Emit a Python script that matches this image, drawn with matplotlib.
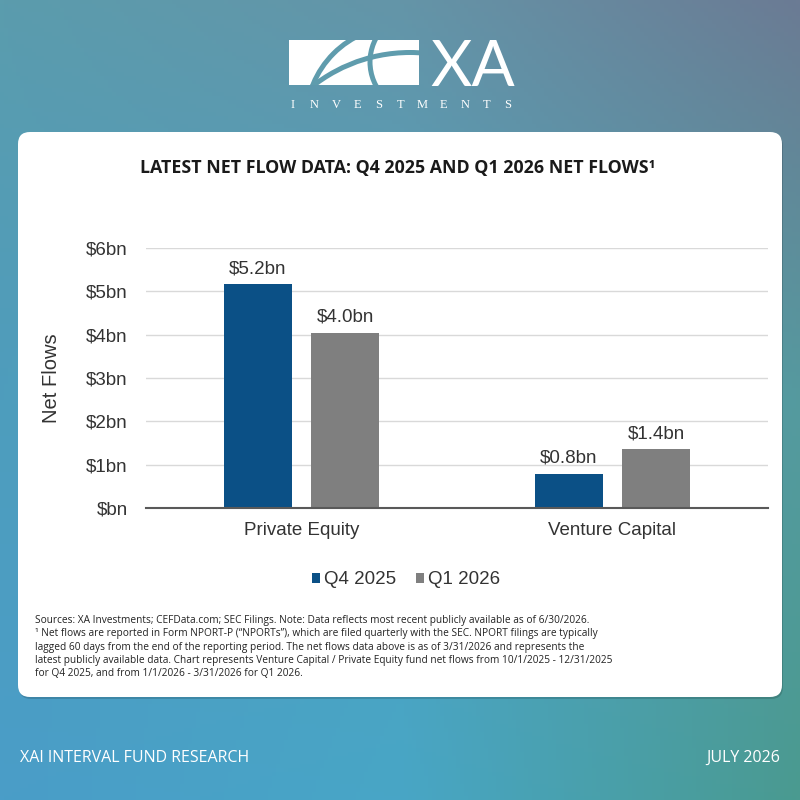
import numpy as np
import matplotlib
matplotlib.use("Agg")
import matplotlib.pyplot as plt
from matplotlib.patches import FancyBboxPatch, Rectangle, Circle
from matplotlib.colors import to_rgb

# data
categories = ["Private Equity", "Venture Capital"]
series_names = ["Q4 2025", "Q1 2026"]
q4_2025 = [5.17, 0.79]
q1_2026 = [4.04, 1.36]
y_ticks = [0, 1, 2, 3, 4, 5, 6]
y_tick_labels = ["$bn", "$1bn", "$2bn", "$3bn", "$4bn", "$5bn", "$6bn"]

title = "LATEST NET FLOW DATA: Q4 2025 AND Q1 2026 NET FLOWS\u00b9"
footnote = [
    "Sources: XA Investments; CEFData.com; SEC Filings. Note: Data reflects most recent publicly available as of 6/30/2026.",
    "\u00b9 Net flows are reported in Form NPORT-P (\u201cNPORTs\u201d), which are filed quarterly with the SEC. NPORT filings are typically",
    "lagged 60 days from the end of the reporting period. The net flows data above is as of 3/31/2026 and represents the",
    "latest publicly available data. Chart represents Venture Capital / Private Equity fund net flows from 10/1/2025 - 12/31/2025",
    "for Q4 2025, and from 1/1/2026 - 3/31/2026 for Q1 2026.",
]

BLUE = "#0b5086"
GRAY = "#7f7f7f"
TXT = "#333333"
FS = 13.5

fig = plt.figure(figsize=(8, 8), dpi=100)

# background layer in pixel coords
bg = fig.add_axes([0, 0, 1, 1])
bg.set_xlim(0, 800)
bg.set_ylim(800, 0)
bg.axis("off")

corner = np.array([
    [to_rgb("#5b9cad"), to_rgb("#6495a8"), to_rgb("#6b7b94")],
    [to_rgb("#4e9dbd"), to_rgb("#4fa2bf"), to_rgb("#559a9f")],
    [to_rgb("#4a9dc8"), to_rgb("#48a6c6"), to_rgb("#4a9a90")],
])
n = 200
t = np.linspace(0, 2, n)
grad = np.zeros((n, n, 3))
for c in range(3):
    rows = np.array([np.interp(t, [0, 1, 2], corner[r, :, c]) for r in range(3)])
    for j in range(n):
        grad[:, j, c] = np.interp(t, [0, 1, 2], rows[:, j])
bg.imshow(grad, extent=[0, 800, 800, 0], aspect="auto", zorder=0)

# card
bg.add_patch(FancyBboxPatch((19, 134), 764, 565, boxstyle="round,pad=0,rounding_size=12",
                            fc="#000000", ec="none", alpha=0.15, zorder=1))
bg.add_patch(FancyBboxPatch((18, 132), 764, 565, boxstyle="round,pad=0,rounding_size=12",
                            fc="white", ec="none", zorder=2))

# logo
logo_bg = "#5f9cad"
box = Rectangle((289, 40), 130, 45, fc="white", ec="none", zorder=2)
bg.add_patch(box)
for cx, cy, r in ((400, 120, 94), (420, 62, 50), (410, 210, 157.5)):
    circ = Circle((cx, cy), r, fill=False, ec=logo_bg, lw=3.6, zorder=3)
    bg.add_patch(circ)
    circ.set_clip_path(box)
bg.text(430, 86, "XA", color="white", fontsize=46, family="Lato",
        ha="left", va="baseline", zorder=3)
for xi, ch in zip(np.linspace(293, 508, 11), "INVESTMENTS"):
    bg.text(xi, 108, ch, color="white", fontsize=9, family="Liberation Serif",
            ha="center", va="baseline", zorder=3)

bg.text(398, 173, title, fontsize=12.8, fontweight="bold", family="Open Sans",
        ha="center", va="baseline", color="#1a1a1a", zorder=3)

for i, line in enumerate(footnote):
    bg.text(35, 623 + i * 13.3, line, fontsize=7.25, family="Open Sans",
            ha="left", va="baseline", color="#222222", zorder=3)

bg.text(20, 762, "XAI INTERVAL FUND RESEARCH", fontsize=11.5, family="Open Sans",
        ha="left", va="baseline", color="white", zorder=3)
bg.text(780, 762, "JULY 2026", fontsize=11.5, family="Open Sans",
        ha="right", va="baseline", color="white", zorder=3)

# chart
ax = fig.add_axes([146 / 800, 1 - 508 / 800, 622 / 800, 260 / 800])
ax.set_facecolor("none")
x = np.arange(len(categories))
w = 0.22
off = 0.14
b1 = ax.bar(x - off, q4_2025, w, color=BLUE, label=series_names[0], zorder=3)
b2 = ax.bar(x + off, q1_2026, w, color=GRAY, label=series_names[1], zorder=3)
for bars, vals in ((b1, q4_2025), (b2, q1_2026)):
    for rect, v in zip(bars, vals):
        ax.annotate(f"${v:.1f}bn", (rect.get_x() + rect.get_width() / 2, v),
                    xytext=(0, 5), textcoords="offset points", ha="center", va="bottom",
                    fontsize=FS, family="Liberation Sans", color=TXT)

ax.set_xlim(-0.5, 1.5)
ax.set_ylim(0, 6)
ax.set_yticks(y_ticks)
ax.set_yticklabels(y_tick_labels, fontsize=FS, family="Liberation Sans", color=TXT)
ax.set_xticks(x)
ax.set_xticklabels(categories, fontsize=FS, family="Liberation Sans", color=TXT)
ax.tick_params(axis="y", length=0, pad=13)
ax.tick_params(axis="x", length=0, pad=10)
ax.yaxis.grid(True, color="#d9d9d9", lw=1, zorder=0)
for s in ("top", "right", "left"):
    ax.spines[s].set_visible(False)
ax.spines["bottom"].set_color("#595959")
ax.spines["bottom"].set_linewidth(1.5)
ax.spines["bottom"].set_zorder(4)
ax.set_ylabel("Net Flows", fontsize=14.5, family="Liberation Sans", color=TXT, labelpad=18)

leg = ax.legend(loc="center", bbox_to_anchor=(406 / 800, 1 - 580 / 800),
                bbox_transform=fig.transFigure, ncol=2, frameon=False,
                handlelength=0.43, handleheight=0.43, handletextpad=0.22, columnspacing=1.05,
                borderpad=0, prop={"family": "Liberation Sans", "size": FS})
for txt in leg.get_texts():
    txt.set_color(TXT)

fig.savefig("out.png", dpi=100)
